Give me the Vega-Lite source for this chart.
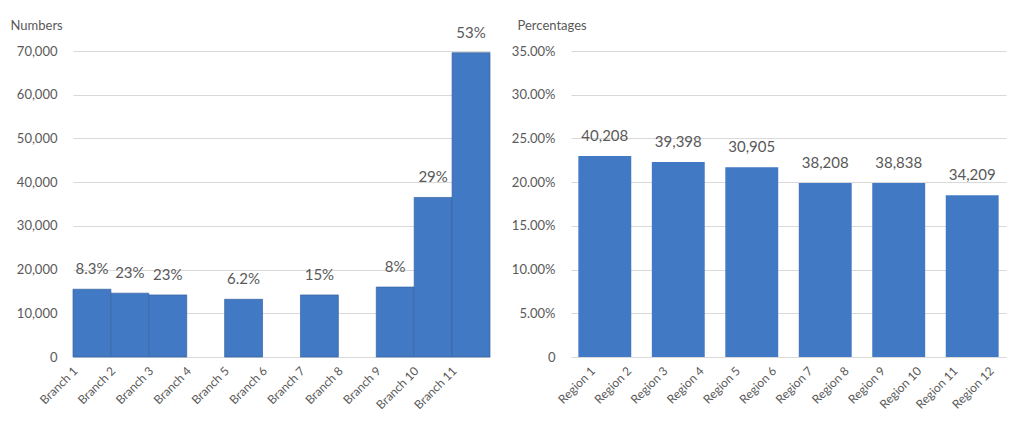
{
  "$schema": "https://vega.github.io/schema/vega-lite/v6.json",
  "padding": {"left": 10, "top": 19, "right": 5, "bottom": 5},
  "background": "white",
  "config": {
    "font": "Lato",
    "view": {"stroke": null},
    "axis": {"labelColor": "#595959", "labelFont": "Lato", "gridColor": "#d9d9d9", "gridWidth": 1, "domain": false, "ticks": false, "titleFont": "Lato", "titleFontWeight": "normal", "titleColor": "#595959", "titleFontSize": 13}
  },
  "datasets": {
    "left": [
      {"cat": "Branch 1", "value": 15500, "label": "8.3%"},
      {"cat": "Branch 2", "value": 14600, "label": "23%"},
      {"cat": "Branch 3", "value": 14200, "label": "23%"},
      {"cat": "Branch 4", "value": null, "label": null},
      {"cat": "Branch 5", "value": 13200, "label": "6.2%"},
      {"cat": "Branch 6", "value": null, "label": null},
      {"cat": "Branch 7", "value": 14200, "label": "15%"},
      {"cat": "Branch 8", "value": null, "label": null},
      {"cat": "Branch 9", "value": 16000, "label": "8%"},
      {"cat": "Branch 10", "value": 36500, "label": "29%"},
      {"cat": "Branch 11", "value": 69600, "label": "53%"}
    ],
    "right": [
      {"cat": "Region 1", "value": null, "label": null},
      {"cat": "Region 2", "value": 0.230, "label": "40,208"},
      {"cat": "Region 3", "value": null, "label": null},
      {"cat": "Region 4", "value": 0.223, "label": "39,398"},
      {"cat": "Region 5", "value": null, "label": null},
      {"cat": "Region 6", "value": 0.217, "label": "30,905"},
      {"cat": "Region 7", "value": null, "label": null},
      {"cat": "Region 8", "value": 0.199, "label": "38,208"},
      {"cat": "Region 9", "value": null, "label": null},
      {"cat": "Region 10", "value": 0.199, "label": "38,838"},
      {"cat": "Region 11", "value": null, "label": null},
      {"cat": "Region 12", "value": 0.185, "label": "34,209"}
    ]
  },
  "spacing": 20,
  "hconcat": [
    {
      "width": 417,
      "height": 306,
      "data": {"name": "left"},
      "encoding": {
        "x": {
          "field": "cat", "type": "nominal", "sort": null,
          "scale": {"domain": ["Branch 1","Branch 2","Branch 3","Branch 4","Branch 5","Branch 6","Branch 7","Branch 8","Branch 9","Branch 10","Branch 11"], "paddingInner": 0, "paddingOuter": 0},
          "axis": {"title": null, "labelAngle": -45, "labelFontSize": 12, "labelPadding": 8, "labelOffset": -20, "grid": false}
        }
      },
      "layer": [
        {
          "mark": {"type": "bar", "color": "#4279c4", "stroke": "#35649f", "strokeWidth": 0.7},
          "encoding": {
            "y": {"field": "value", "type": "quantitative", "scale": {"domain": [0, 70000]},
                  "axis": {"values": [0,10000,20000,30000,40000,50000,60000,70000], "format": ",d", "labelFontSize": 13, "labelPadding": 16,
                           "title": "Numbers", "titleAngle": 0, "titleAlign": "left", "titleBaseline": "middle", "titleX": -63, "titleY": -26}}
          }
        },
        {
          "mark": {"type": "text", "baseline": "bottom", "dy": -12, "fontSize": 15, "color": "#595959"},
          "encoding": {
            "y": {"field": "value", "type": "quantitative"},
            "text": {"field": "label"}
          }
        }
      ]
    },
    {
      "width": 435,
      "height": 306,
      "data": {"name": "right"},
      "resolve": {"scale": {"x": "independent"}, "axis": {"x": "independent"}},
      "layer": [
        {
          "encoding": {
            "x": {
              "field": "cat", "type": "nominal", "sort": null,
              "scale": {"domain": ["Region 2","Region 4","Region 6","Region 8","Region 10","Region 12"], "paddingInner": 0.28, "paddingOuter": 0.1},
              "axis": null
            },
            "y": {"field": "value", "type": "quantitative", "scale": {"domain": [0, 0.35]},
                  "axis": {"values": [0,0.05,0.1,0.15,0.2,0.25,0.3,0.35], "format": ".2%", "labelFontSize": 13, "labelPadding": 16,
                           "labelExpr": "datum.value === 0 ? '0' : datum.label",
                           "title": "Percentages", "titleAngle": 0, "titleAlign": "left", "titleBaseline": "middle", "titleX": -54, "titleY": -26}}
          },
          "layer": [
            {"mark": {"type": "bar", "color": "#4279c4"}},
            {"mark": {"type": "text", "baseline": "bottom", "dy": -12, "fontSize": 15, "color": "#595959"},
             "encoding": {"text": {"field": "label"}}}
          ]
        },
        {
          "mark": {"type": "point", "opacity": 0},
          "encoding": {
            "x": {
              "field": "cat", "type": "nominal", "sort": null,
              "scale": {"domain": ["Region 1","Region 2","Region 3","Region 4","Region 5","Region 6","Region 7","Region 8","Region 9","Region 10","Region 11","Region 12"], "paddingInner": 0, "paddingOuter": 0},
              "axis": {"title": null, "labelAngle": -45, "labelFontSize": 12, "labelPadding": 8, "grid": false}
            }
          }
        }
      ]
    }
  ]
}
